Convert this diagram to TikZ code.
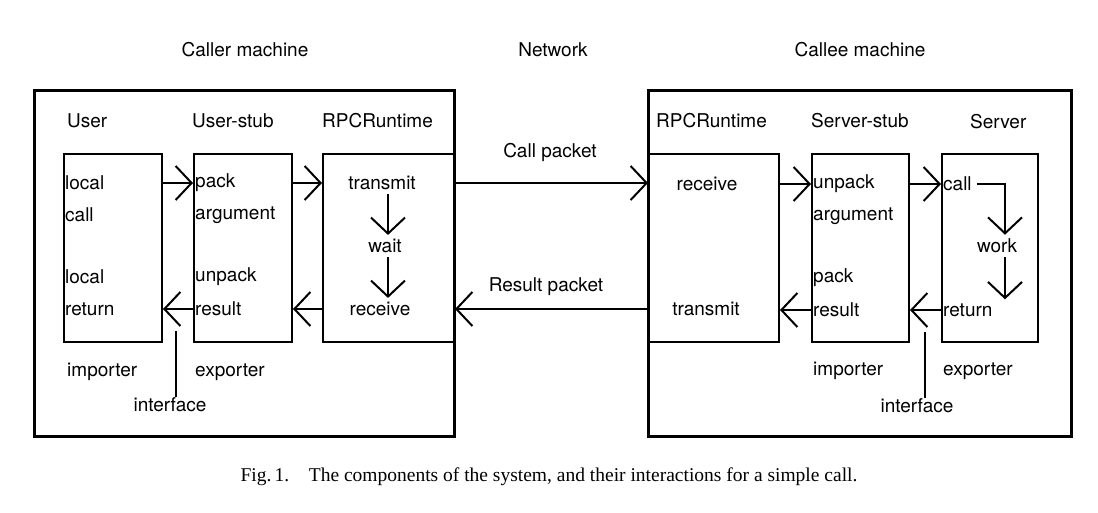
\documentclass[tikz,border=0pt]{standalone}
\usepackage{fontspec}
\setmainfont{Liberation Serif}
\newfontfamily\helv{TeX Gyre Heros}
\usetikzlibrary{arrows.meta,positioning}
\tikzset{
	lbl/.style={font=\helv\fontsize{19}{22}\selectfont, inner sep=1pt},
	box/.style={draw, line width=2pt, inner sep=0pt, anchor=north west},
	frame/.style={draw, line width=3pt},
	flow/.style={line width=2pt, -{Straight Barb[length=16pt,width=34pt,line width=2pt,sharp]}},
}
\begin{document}
\begin{tikzpicture}[x=1pt,y=-1pt]
	\useasboundingbox (0,0) rectangle (1098,512);
	% outer machines
	\draw [frame] (34,90) rectangle (454,436);
	\draw [frame] (648,90) rectangle (1071,436);
	\node [lbl] (caller) at (245,50) {Caller machine};
	\node [lbl] (net) at (553,50) {Network};
	\node [lbl] (callee) at (860,50) {Callee machine};
	% caller side boxes
	\node [box, minimum width=98, minimum height=188] (user) at (63,153) {};
	\node [box, minimum width=98, minimum height=188] (ustub) at (193,153) {};
	\node [box, minimum width=131, minimum height=188] (crt) at (322,153) {};
	\node [lbl, anchor=west] at (66,121) {User};
	\node [lbl, anchor=west] at (191,121) {User-stub};
	\node [lbl, anchor=west] at (321,121) {RPCRuntime};
	\node [lbl, anchor=west] (lcall) at (64,183) {local};
	\node [lbl, anchor=west] at (64,215) {call};
	\node [lbl, anchor=west] at (64,277) {local};
	\node [lbl, anchor=west] (lret) at (64,309) {return};
	\node [lbl, anchor=west] (pack) at (194,183) {pack};
	\node [lbl, anchor=west] at (194,215) {argument};
	\node [lbl, anchor=west] at (194,277) {unpack};
	\node [lbl, anchor=west] (res) at (194,309) {result};
	\node [lbl] (ctx) at (382,183) {transmit};
	\node [lbl] (cwait) at (385,246) {wait};
	\node [lbl] (crx) at (380,309) {receive};
	\node [lbl, anchor=west] at (66,372) {importer};
	\node [lbl, anchor=west] at (194,372) {exporter};
	\node [lbl] (cif) at (170,405) {interface};
	\coordinate (cifline) at (176,331);
	% callee side boxes
	\node [box, minimum width=130, minimum height=188] (srt) at (648,153) {};
	\node [box, minimum width=97, minimum height=188] (sstub) at (811,153) {};
	\node [box, minimum width=96, minimum height=188] (server) at (941,153) {};
	\node [lbl, anchor=west] at (655,121) {RPCRuntime};
	\node [lbl, anchor=west] at (810,121) {Server-stub};
	\node [lbl, anchor=west] at (969,122) {Server};
	\node [lbl] (srx) at (707,184) {receive};
	\node [lbl] (stx) at (706,309) {transmit};
	\node [lbl, anchor=west] (unp) at (812,184) {unpack};
	\node [lbl, anchor=west] at (812,216) {argument};
	\node [lbl, anchor=west] at (812,278) {pack};
	\node [lbl, anchor=west] (sres) at (812,310) {result};
	\node [lbl, anchor=west] (scall) at (942,184) {call};
	\node [lbl] (swork) at (997,246) {work};
	\node [lbl, anchor=west] (sret) at (942,310) {return};
	\node [lbl, anchor=west] at (812,371) {importer};
	\node [lbl, anchor=west] at (942,371) {exporter};
	\node [lbl] (sif) at (917,406) {interface};
	\coordinate (sifline) at (925,332);
	% packets
	\node [lbl] (callpkt) at (550,152) {Call packet};
	\node [lbl] (respkt) at (546,287) {Result packet};
	% connectors
	\draw [flow] (user.east |- lcall) -- (ustub.west |- lcall);
	\draw [flow] (ustub.east |- lcall) -- (crt.west |- lcall);
	\draw [flow] (crt.east |- lcall) -- (srt.west |- lcall);
	\draw [flow] (srt.east |- srx) -- (sstub.west |- srx);
	\draw [flow] (sstub.east |- srx) -- (server.west |- srx);
	\draw [flow] (server.west |- sret) -- (sstub.east |- sret);
	\draw [flow] (sstub.west |- sret) -- (srt.east |- sret);
	\draw [flow] (srt.west |- lret) -- (crt.east |- lret);
	\draw [flow] (crt.west |- lret) -- (ustub.east |- lret);
	\draw [flow] (ustub.west |- lret) -- (user.east |- lret);
	\draw [flow] ([xshift=6pt,yshift=-3pt]ctx.south) -- ([xshift=3pt,yshift=3pt]cwait.north);
	\draw [flow] ([xshift=3pt,yshift=-3pt]cwait.south) -- ([xshift=8pt,yshift=3pt]crx.north);
	\draw [flow] ([xshift=4pt]scall.east) -| ([xshift=8pt,yshift=3pt]swork.north);
	\draw [flow] ([xshift=8pt,yshift=-3pt]swork.south) -- ([xshift=8pt,yshift=3pt]swork.south |- sret.north);
	\draw [line width=2pt] (cifline) -- (cif.north -| cifline);
	\draw [line width=2pt] (sifline) -- (sif.north -| sifline);
	% caption
	\node [font=\fontsize{19.5}{22}\selectfont] (cap) at (549,477) {Fig.\,1.\quad The components of the system, and their interactions for a simple call.};
\end{tikzpicture}
\end{document}
